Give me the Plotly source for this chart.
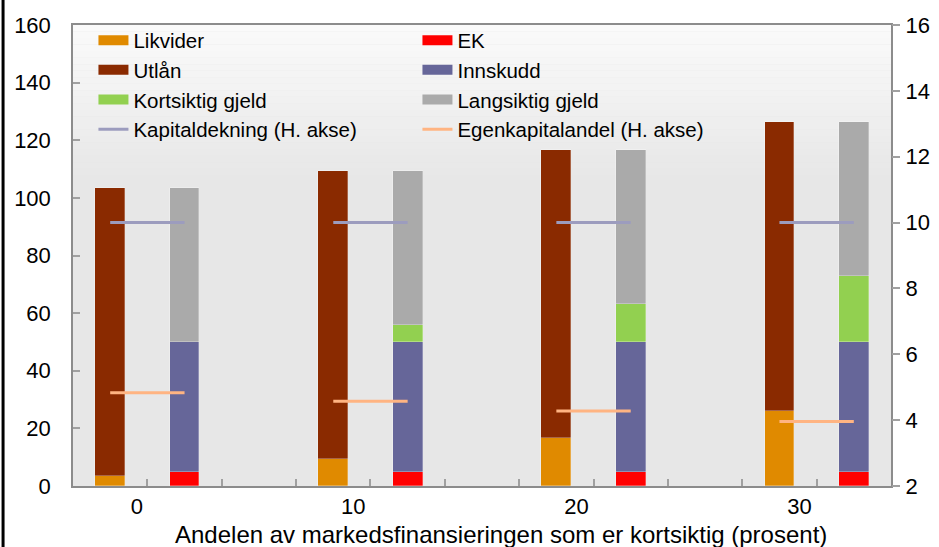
import plotly.graph_objects as go

# ---------------- data ----------------
groups = ["0", "10", "20", "30"]
likvider = [3.5, 9.4, 16.7, 26.2]
utlan = [100, 100, 100, 100]
ek = [5, 5, 5, 5]
innskudd = [45, 45, 45, 45]
kortsiktig = [0, 5.9, 13.3, 22.9]
langsiktig = [53.5, 53.5, 53.4, 53.3]
kapitaldekning = [10, 10, 10, 10]
egenkapitalandel = [4.83, 4.57, 4.28, 3.96]
left_ticks = [0, 20, 40, 60, 80, 100, 120, 140, 160]
right_ticks = [2, 4, 6, 8, 10, 12, 14, 16]
x_title = "Andelen av markedsfinansieringen som er kortsiktig (prosent)"

# ---------------- layout helpers ----------------
n = len(groups)
x_left = [3 * i for i in range(n)]       # asset bars
x_right = [3 * i + 1 for i in range(n)]  # liability bars
label_pos = [0.36, 3.27, 6.27, 9.27]
slot_bounds = [k + 0.5 for k in range(10)]

def seg(vals):
    xs, ys = [], []
    for i, v in enumerate(vals):
        xs += [x_left[i], x_right[i], None]
        ys += [v, v, None]
    return xs, ys

C = {
    "Likvider": "#E08A00",
    "Utlån": "#8A2A00",
    "EK": "#FF0000",
    "Innskudd": "#666699",
    "Kortsiktig gjeld": "#92D050",
    "Langsiktig gjeld": "#AAAAAA",
    "Kapitaldekning (H. akse)": "#9C9CBE",
    "Egenkapitalandel (H. akse)": "#FFB482",
}

fig = go.Figure()
BW = 0.4
bar_line = dict(width=0.8, color="rgba(255,255,255,0.35)")

fig.add_trace(go.Bar(x=x_left, y=likvider, width=BW, marker=dict(color=C["Likvider"], line=bar_line), showlegend=False, name="Likvider"))
fig.add_trace(go.Bar(x=x_right, y=ek, width=BW, marker=dict(color=C["EK"], line=bar_line), showlegend=False, name="EK"))
fig.add_trace(go.Bar(x=x_left, y=utlan, width=BW, marker=dict(color=C["Utlån"], line=bar_line), showlegend=False, name="Utlån"))
fig.add_trace(go.Bar(x=x_right, y=innskudd, width=BW, marker=dict(color=C["Innskudd"], line=bar_line), showlegend=False, name="Innskudd"))
fig.add_trace(go.Bar(x=x_right, y=kortsiktig, width=BW, marker=dict(color=C["Kortsiktig gjeld"], line=bar_line), showlegend=False, name="Kortsiktig gjeld"))
fig.add_trace(go.Bar(x=x_right, y=langsiktig, width=BW, marker=dict(color=C["Langsiktig gjeld"], line=bar_line), showlegend=False, name="Langsiktig gjeld"))

xs, ys = seg(kapitaldekning)
fig.add_trace(go.Scatter(x=xs, y=ys, yaxis="y2", mode="lines", line=dict(color=C["Kapitaldekning (H. akse)"], width=3), showlegend=False))
xs, ys = seg(egenkapitalandel)
fig.add_trace(go.Scatter(x=xs, y=ys, yaxis="y2", mode="lines", line=dict(color=C["Egenkapitalandel (H. akse)"], width=3), showlegend=False))

# legend entries (2 columns, Excel-like wide swatches)
legend_order = ["Likvider", "EK", "Utlån", "Innskudd", "Kortsiktig gjeld", "Langsiktig gjeld",
                "Kapitaldekning (H. akse)", "Egenkapitalandel (H. akse)"]
for name in legend_order:
    w = 3 if "akse" in name else 10
    fig.add_trace(go.Scatter(x=[None], y=[None], mode="lines", name=name,
                             line=dict(color=C[name], width=w), showlegend=True))

# gradient plot background (light at top)
shapes = []
nb = 24
top, bot = 1.0, 0.66
for k in range(nb):
    y1 = top - (top - bot) * k / nb
    y0 = top - (top - bot) * (k + 1) / nb
    g = int(251 - (251 - 231) * (k + 0.5) / nb)
    shapes.append(dict(type="rect", xref="paper", yref="paper", x0=0, x1=1, y0=y0, y1=y1,
                       fillcolor=f"rgb({g},{g},{g})", line=dict(width=0), layer="below"))
shapes.append(dict(type="line", xref="paper", yref="paper", x0=-0.0855, x1=-0.0855, y0=-0.14, y1=1.06,
                   line=dict(color="black", width=3)))

FONT = "Liberation Sans, Arial, sans-serif"
AX = "#8C8C8C"
fig.update_layout(
    width=939, height=547,
    margin=dict(l=73, r=48, t=25, b=61, autoexpand=False),
    paper_bgcolor="white",
    plot_bgcolor="rgb(231,231,231)",
    barmode="stack",
    bargap=0,
    font=dict(family=FONT, size=22, color="black"),
    shapes=shapes,
    showlegend=True,
    legend=dict(orientation="h", x=0.025, y=1.010, xanchor="left", yanchor="top",
                entrywidth=279, entrywidthmode="pixels",
                font=dict(family=FONT, size=20.5, color="black"),
                bgcolor="rgba(0,0,0,0)", borderwidth=0, traceorder="normal",
                itemwidth=30),
    annotations=[dict(text=x_title, xref="paper", yref="paper", x=0.523, y=-0.106,
                      xanchor="center", yanchor="middle", showarrow=False,
                      font=dict(family=FONT, size=24, color="black"))],
    xaxis=dict(range=[-0.5, 10.5], tickmode="array", tickvals=label_pos, ticktext=groups,
               ticks="", ticklen=0, showgrid=False, zeroline=False, automargin=False,
               showline=True, linecolor=AX, linewidth=1.5, mirror=True,
               ticklabelstandoff=0,
               tickfont=dict(size=22),
               minor=dict(tickmode="array", tickvals=slot_bounds, ticks="inside", ticklen=7,
                          tickcolor="#A0A0A0", tickwidth=1.5, showgrid=False)),
    yaxis=dict(range=[0, 160], tickmode="array", tickvals=left_ticks, ticks="inside", ticklen=7,
               tickcolor="#A0A0A0", tickwidth=1.5, showgrid=False, zeroline=False, automargin=False,
               showline=True, linecolor=AX, linewidth=1.5, mirror=True,
               ticklabelstandoff=16, tickfont=dict(size=22)),
    yaxis2=dict(range=[2, 16], tickmode="array", tickvals=right_ticks, overlaying="y", side="right",
                ticks="outside", ticklen=8, tickcolor="#A0A0A0", tickwidth=1.5, automargin=False,
                showgrid=False, zeroline=False, showline=False,
                ticklabelstandoff=1, tickfont=dict(size=22)),
)

fig.write_html("out.html", config={"displayModeBar": False},
               post_script="document.body.style.margin='0px';")
